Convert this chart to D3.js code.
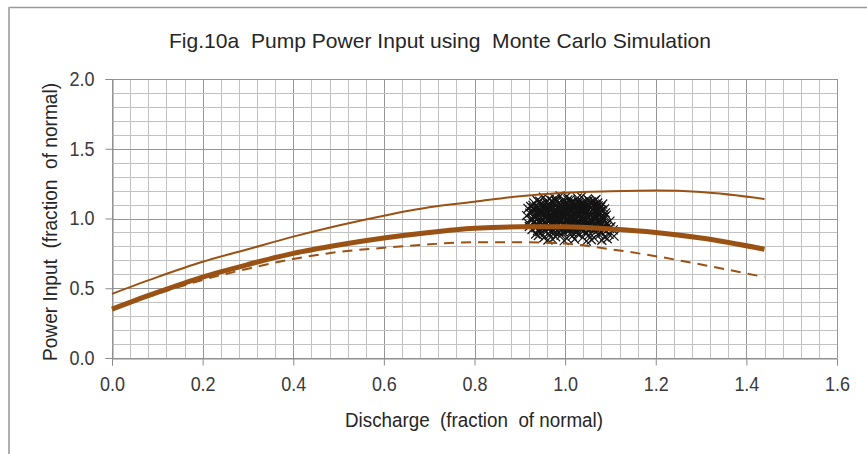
<!DOCTYPE html>
<html><head><meta charset="utf-8">
<script src="https://cdn.jsdelivr.net/npm/d3@7"></script>
<style>html,body{margin:0;padding:0;background:#fff;}svg{display:block;}text{white-space:pre;}</style>
</head><body>
<svg id="chart" width="867" height="454"></svg>
<script>
const titleText = "Fig.10a  Pump Power Input using  Monte Carlo Simulation";
const xTitle = "Discharge  (fraction  of normal)";
const yTitle = "Power Input  (fraction  of normal)";
const xTicks = [0, 0.2, 0.4, 0.6, 0.8, 1.0, 1.2, 1.4, 1.6];
const yTicks = [0, 0.5, 1.0, 1.5, 2.0];

const curveX      = [0, 0.1, 0.2, 0.3, 0.4, 0.5, 0.6, 0.7, 0.8, 0.9, 1.0, 1.1, 1.2, 1.3, 1.44];
const upperCurve  = [0.46, 0.58, 0.69, 0.78, 0.87, 0.95, 1.02, 1.08, 1.12, 1.16, 1.185, 1.195, 1.20, 1.19, 1.14];
const meanCurve   = [0.35, 0.47, 0.58, 0.67, 0.75, 0.81, 0.86, 0.90, 0.93, 0.94, 0.94, 0.925, 0.90, 0.86, 0.78];
const lowerCurve  = [0.35, 0.46, 0.56, 0.64, 0.71, 0.76, 0.79, 0.815, 0.83, 0.83, 0.82, 0.78, 0.73, 0.67, 0.58];

const mcPoints = [
[0.952,1.152],[0.978,1.145],[1.003,1.158],[1.027,1.148],[1.049,1.141],[1.068,1.136],[0.965,1.139],[1.012,1.137],[0.989,1.161],[1.036,1.155],
[0.931,1.112],[0.944,1.124],[0.958,1.118],[0.971,1.127],[0.986,1.109],[0.997,1.121],[1.015,1.114],[1.029,1.126],[1.041,1.108],[1.058,1.119],
[1.072,1.111],[1.083,1.104],[0.949,1.103],[0.978,1.131],[1.006,1.133],[1.052,1.129],[0.962,1.101],[1.021,1.102],[1.064,1.124],[0.938,1.129],
[0.918,1.072],[0.924,1.086],[0.933,1.058],[0.941,1.079],[0.952,1.091],[0.957,1.064],[0.968,1.083],[0.975,1.052],[0.983,1.074],[0.994,1.088],
[1.001,1.061],[1.009,1.079],[1.018,1.093],[1.024,1.057],[1.033,1.071],[1.042,1.086],[1.047,1.054],[1.056,1.077],[1.063,1.095],[1.071,1.062],
[1.079,1.083],[1.087,1.069],[0.946,1.051],[0.963,1.097],[0.989,1.055],[1.013,1.068],[1.038,1.097],[1.068,1.081],[0.929,1.094],[0.999,1.099],
[0.915,1.021],[0.922,1.038],[0.931,1.008],[0.939,1.029],[0.947,1.043],[0.954,1.012],[0.961,1.034],[0.969,1.004],[0.977,1.025],[0.985,1.041],
[0.992,1.016],[1.004,1.032],[1.011,1.003],[1.019,1.027],[1.027,1.044],[1.035,1.011],[1.044,1.031],[1.052,1.006],[1.059,1.039],[1.066,1.019],
[1.074,1.033],[1.082,1.008],[1.091,1.024],[0.936,1.047],[0.958,1.022],[0.981,1.009],[1.007,1.046],[1.031,1.021],[1.048,1.047],[1.077,1.046],
[0.926,1.002],[0.996,1.027],
[0.917,0.971],[0.926,0.986],[0.934,0.958],[0.943,0.977],[0.951,0.991],[0.959,0.962],[0.966,0.983],[0.974,0.952],[0.982,0.974],[0.991,0.989],
[0.998,0.961],[1.006,0.979],[1.014,0.994],[1.022,0.956],[1.029,0.972],[1.037,0.987],[1.045,0.953],[1.053,0.969],[1.061,0.984],[1.069,0.958],
[1.076,0.977],[1.084,0.993],[1.092,0.964],[1.099,0.981],[0.938,0.998],[0.962,0.951],[0.987,0.997],[1.011,0.952],[1.041,0.999],[1.066,0.996],
[1.088,0.951],
[0.927,0.921],[0.935,0.936],[0.944,0.907],[0.952,0.928],[0.961,0.943],[0.969,0.912],[0.978,0.931],[0.986,0.903],[0.994,0.925],[1.002,0.941],
[1.009,0.914],[1.017,0.933],[1.026,0.905],[1.034,0.922],[1.043,0.939],[1.051,0.911],[1.058,0.929],[1.067,0.902],[1.074,0.921],[1.083,0.937],
[1.091,0.912],[1.098,0.928],[1.106,0.918],[0.957,0.902],[0.983,0.947],[1.013,0.948],[1.046,0.904],[1.079,0.906],[1.101,0.941],[0.921,0.943],
[0.941,0.878],[0.953,0.862],[0.966,0.884],[0.979,0.869],[0.991,0.881],[1.004,0.858],[1.016,0.874],[1.028,0.887],[1.039,0.865],[1.052,0.879],
[1.064,0.861],[1.076,0.883],[1.087,0.868],[1.097,0.886],[1.108,0.874],[0.972,0.852],[1.021,0.851],[1.058,0.848],[1.093,0.855],[0.935,0.889],
[0.998,0.841],[1.047,0.838],[1.081,0.844],[0.962,0.846],
[0.935,1.015],[0.942,1.062],[0.948,0.985],[0.955,1.105],[0.960,0.930],[0.965,1.045],[0.970,0.995],[0.973,1.115],[0.976,0.915],[0.980,1.060],
[0.984,0.960],[0.988,1.100],[0.991,1.035],[0.995,0.905],[0.998,1.070],[1.002,0.990],[1.005,1.110],[1.008,0.940],[1.012,1.050],[1.016,0.965],
[1.019,1.085],[1.023,1.000],[1.026,0.920],[1.030,1.115],[1.034,1.040],[1.038,0.955],[1.041,1.075],[1.045,0.985],[1.049,1.100],[1.053,0.925],
[1.057,1.025],[1.061,1.065],[1.065,0.945],[1.069,1.005],[1.073,1.090],[0.940,0.950],[0.945,1.035],[0.950,1.075],[0.956,0.975],[0.963,1.065],
[0.967,0.940],[0.972,1.020],[0.978,1.090],[0.983,0.990],[0.987,0.925],[0.993,1.060],[0.997,1.120],[1.001,0.950],[1.006,1.025],[1.010,1.095],
[1.014,0.905],[1.018,1.010],[1.022,1.075],[1.027,0.975],[1.031,1.100],[1.035,0.935],[1.039,1.055],[1.043,1.015],[1.047,0.965],[1.051,1.090],
[1.055,0.995],[1.060,0.945],[1.064,1.050],[1.068,1.100],[1.072,0.980],[0.937,1.085],[0.944,0.925],[0.951,1.020],[0.958,1.080],[0.964,1.000],
[0.969,0.960],[0.975,1.040],[0.981,1.120],[0.986,1.020],[0.990,0.945],[0.996,1.005],[1.000,1.085],[1.004,0.915],[1.009,0.970],[1.013,1.115],
[1.017,1.040],[1.021,0.985],[1.025,1.060],[1.030,0.940],[1.033,1.000],[1.037,1.115],[1.042,0.955],[1.046,1.065],[1.050,1.020],[1.054,0.960],
[1.058,1.105],[1.062,1.010],[1.066,0.930],[1.070,1.055],[1.075,1.000],[1.078,0.950],[1.081,1.060],[1.085,0.920],[1.089,1.040],[1.094,0.945],
[0.928,1.050],[0.932,0.970],[0.930,1.075],[0.939,0.915],[0.946,1.100],[0.953,0.945],[0.959,1.050],[0.966,1.110],[0.971,0.975],[0.977,0.900],
[0.982,1.030],[0.989,1.075],[0.994,0.960],[0.999,1.040],[1.003,1.000],[1.007,1.065],[1.011,0.930],[1.015,1.020],[1.020,1.120],[1.024,0.945],
[1.028,1.030],[1.032,0.965],[1.036,1.080],[1.040,0.910],[1.044,1.045],[1.048,0.930],[1.052,1.035],[1.056,1.080],[1.060,0.975],[1.063,1.120],
[1.067,0.990],[1.071,0.935],[1.076,1.065],[1.080,0.965],[1.086,1.010],[0.950,0.960],[0.960,1.010],[0.970,1.075],[0.980,0.945],[0.990,1.000],
[1.000,1.055],[1.010,1.010],[1.020,0.955],[1.030,1.065],[1.040,0.990],[1.050,1.055],[1.060,1.040],[0.975,1.005],[1.025,1.025],[0.955,1.040]
];

const svg = d3.select("#chart");
const W = 867, H = 454;
const x = d3.scaleLinear().domain([0, 1.6]).range([112, 837]);
const y = d3.scaleLinear().domain([0, 2]).range([358, 79]);
const brown = "#9a5214";
const font = "'Liberation Sans', Arial, sans-serif";

// outer frame (top and left edges visible)
svg.append("line").attr("x1", 9).attr("x2", W).attr("y1", 7.5).attr("y2", 7.5).attr("stroke", "#9a9a9a").attr("stroke-width", 1.5);
svg.append("line").attr("x1", 9).attr("x2", 9).attr("y1", 7).attr("y2", H).attr("stroke", "#b0b0b0").attr("stroke-width", 2);

// grid
const g = svg.append("g");
d3.range(0, 1.6001, 0.04).forEach(v => {
  const major = Math.abs(v / 0.2 - Math.round(v / 0.2)) < 1e-6;
  g.append("line").attr("x1", Math.round(x(v)) + 0.5).attr("x2", Math.round(x(v)) + 0.5)
    .attr("y1", y(2)).attr("y2", y(0)).attr("stroke", major ? "#969696" : "#c2c2c2").attr("stroke-width", 1);
});
d3.range(0, 2.0001, 0.1).forEach(v => {
  const major = Math.abs(v / 0.5 - Math.round(v / 0.5)) < 1e-6;
  g.append("line").attr("x1", x(0)).attr("x2", x(1.6)).attr("y1", Math.round(y(v)) + 0.5).attr("y2", Math.round(y(v)) + 0.5)
    .attr("stroke", major ? "#969696" : "#c2c2c2").attr("stroke-width", 1);
});

// axes
const xAxis = d3.axisBottom(x).tickValues(xTicks).tickFormat(d3.format(".1f")).tickSize(7).tickPadding(6);
const yAxis = d3.axisLeft(y).tickValues(yTicks).tickFormat(d3.format(".1f")).tickSize(7).tickPadding(11);
const gx = svg.append("g").attr("transform", `translate(0,${Math.round(y(0)) + 0.5})`).call(xAxis);
const gy = svg.append("g").attr("transform", `translate(${Math.round(x(0)) + 0.5},0)`).call(yAxis);
[gx, gy].forEach(a => {
  a.select(".domain").attr("stroke", "#8c8c8c");
  a.selectAll(".tick line").attr("stroke", "#8c8c8c");
  a.selectAll(".tick text").attr("fill", "#3a3a3a").attr("font-family", font).attr("font-size", 20)
    .attr("textLength", 25).attr("lengthAdjust", "spacingAndGlyphs");
});
gx.selectAll(".tick text").attr("dy", "0.95em");

// scatter (X markers)
const sc = svg.append("g");
const s = 4.5;
sc.selectAll("path").data(mcPoints).join("path")
  .attr("d", d => { const cx = x(d[0]), cy = y(d[1]); return `M${cx - s},${cy - s}L${cx + s},${cy + s}M${cx - s},${cy + s}L${cx + s},${cy - s}`; })
  .attr("stroke", "#141414").attr("stroke-width", 1.2).attr("fill", "none");

// curves
const line = d3.line().x(d => x(d[0])).y(d => y(d[1])).curve(d3.curveMonotoneX);
const mk = arr => curveX.map((v, i) => [v, arr[i]]);
svg.append("path").attr("d", line(mk(lowerCurve))).attr("fill", "none").attr("stroke", brown).attr("stroke-width", 2).attr("stroke-dasharray", "10,7");
svg.append("path").attr("d", line(mk(upperCurve))).attr("fill", "none").attr("stroke", brown).attr("stroke-width", 2);
svg.append("path").attr("d", line(mk(meanCurve))).attr("fill", "none").attr("stroke", brown).attr("stroke-width", 5);

// titles
svg.append("text").attr("x", 440).attr("y", 48).attr("text-anchor", "middle").attr("font-family", font).attr("font-size", 21)
  .attr("fill", "#262626").attr("textLength", 542).attr("lengthAdjust", "spacingAndGlyphs").text(titleText);
svg.append("text").attr("x", 474).attr("y", 427).attr("text-anchor", "middle").attr("font-family", font).attr("font-size", 20)
  .attr("fill", "#262626").attr("textLength", 258).attr("lengthAdjust", "spacingAndGlyphs").text(xTitle);
svg.append("text").attr("transform", "translate(57,222) rotate(-90)").attr("text-anchor", "middle").attr("font-family", font).attr("font-size", 20)
  .attr("fill", "#262626").attr("textLength", 278).attr("lengthAdjust", "spacingAndGlyphs").text(yTitle);
</script>
</body></html>
